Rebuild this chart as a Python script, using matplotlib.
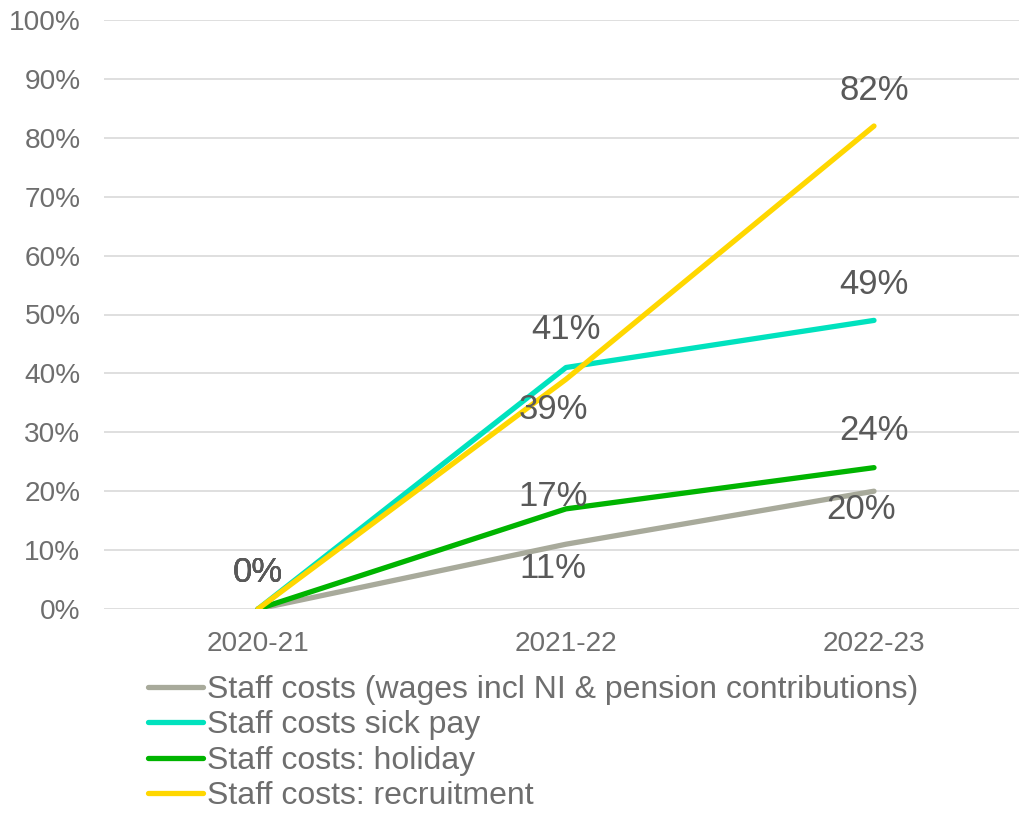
import matplotlib
matplotlib.use("Agg")
import matplotlib.pyplot as plt
from matplotlib.ticker import FuncFormatter

plt.rcParams['font.family'] = ['Liberation Sans', 'DejaVu Sans']

years = ["2020-21", "2021-22", "2022-23"]
series_names = [
    "Staff costs (wages incl NI & pension contributions)",
    "Staff costs sick pay",
    "Staff costs: holiday",
    "Staff costs: recruitment",
]
wages = [0, 11, 20]
sick_pay = [0, 41, 49]
holiday = [0, 17, 24]
recruitment = [0, 39, 82]
y_ticks = list(range(0, 101, 10))

colors = ["#A8AA9B", "#00E2BE", "#00B400", "#FFD700"]
all_values = [wages, sick_pay, holiday, recruitment]
# label offsets (pixels) for each series point: (dx, dy)
label_offsets = [
    [(0, 37), (-13, -24), (-13, -18)],
    [(0, 37), (0, 38), (0, 36)],
    [(0, 37), (-13, 12), (0, 37)],
    [(0, 37), (-13, -30), (0, 36)],
]

fig = plt.figure(figsize=(10.2, 8.14), dpi=100)
ax = fig.add_axes([104 / 1020, 205 / 814, (1020 - 104) / 1020, 589 / 814])

x = list(range(len(years)))
for name, vals, col, offs in zip(series_names, all_values, colors, label_offsets):
    ax.plot(x, vals, color=col, lw=3.8, solid_capstyle='round', label=name, zorder=3)
    for xi, v, (dx, dy) in zip(x, vals, offs):
        ax.annotate(f"{v}%", (xi, v), xytext=(dx, dy), textcoords='offset pixels',
                    ha='center', va='center', fontsize=25, color='#595959', zorder=4)

ax.set_xlim(-0.5, 2.5 - 8 / 308)
ax.set_ylim(0, 100)
ax.set_yticks(y_ticks)
ax.yaxis.set_major_formatter(FuncFormatter(lambda v, p: f"{int(v)}%"))
ax.set_xticks(x)
ax.set_xticklabels(years)
ax.grid(axis='y', color='#D9D9D9', lw=1.2)
ax.set_axisbelow(True)
for s in ax.spines.values():
    s.set_visible(False)
ax.tick_params(length=0, labelsize=20.2, labelcolor='#6E6E6E')
ax.tick_params(axis='y', pad=17)
ax.tick_params(axis='x', pad=16)

leg = fig.legend(loc='upper left', bbox_to_anchor=(148 / 1020, 1 - 675 / 814),
                 frameon=False, fontsize=23, handlelength=1.72, handletextpad=0.12,
                 labelspacing=0.17, borderpad=0, borderaxespad=0)
for t in leg.get_texts():
    t.set_color('#6E6E6E')
for h in leg.get_lines():
    h.set_linewidth(3.8)

fig.savefig("out.png", dpi=100)
